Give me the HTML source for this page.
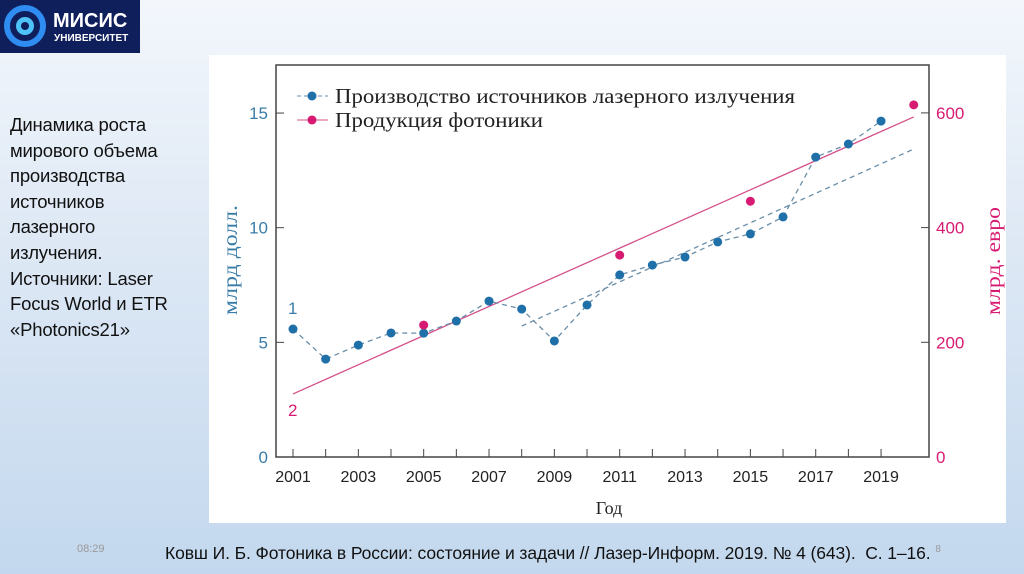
<!DOCTYPE html>
<html><head><meta charset="utf-8"><style>
body{margin:0;width:1024px;height:574px;overflow:hidden;font-family:"Liberation Sans",sans-serif;
background:linear-gradient(180deg,#f3f7fc 0%,#dfe9f5 40%,#c3d8ee 100%);position:relative}
#logo{position:absolute;left:0;top:0;width:140px;height:53px;background:#0f1f5c}
#side{position:absolute;left:10px;top:112px;font-size:18.5px;line-height:25.6px;color:#111;font-family:"Liberation Sans",sans-serif;letter-spacing:-0.2px}
#panel{position:absolute;left:209px;top:55px;width:797px;height:468px;background:#fff}
#time{position:absolute;left:77px;top:543px;font-size:11px;color:#999}
#ref{position:absolute;left:165px;top:543px;font-size:17.5px;color:#111;letter-spacing:-0.1px;white-space:nowrap}
</style></head><body>
<div id="logo">
<svg width="140" height="53">
<circle cx="25" cy="26" r="18" fill="none" stroke="#2f8cf0" stroke-width="6"/>
<circle cx="25" cy="26" r="9" fill="#4fc3f7"/>
<circle cx="25" cy="26" r="4" fill="#0f1f5c"/>
<text x="53" y="27" fill="#fff" font-size="20" font-weight="bold" font-family="Liberation Sans">МИСИС</text>
<text x="54" y="41" fill="#fff" font-size="10" font-weight="bold" font-family="Liberation Sans">УНИВЕРСИТЕТ</text>
</svg></div>
<div id="side">Динамика роста<br>мирового объема<br>производства<br>источников<br>лазерного<br>излучения.<br>Источники: Laser<br>Focus World и ETR<br>«Photonics21»</div>
<div id="panel"></div>
<svg id="chart" width="1024" height="574" style="position:absolute;left:0;top:0"></svg>
<div id="time">08:29</div>
<div id="ref">Ковш И. Б. Фотоника в России: состояние и задачи // Лазер-Информ. 2019. № 4 (643).&nbsp; С. 1–16. <sup style="font-size:10px;color:#999">8</sup></div>
<script>
const years=[2001,2002,2003,2004,2005,2006,2007,2008,2009,2010,2011,2012,2013,2014,2015,2016,2017,2018,2019];
const laserValues=[5.58,4.27,4.88,5.41,5.4,5.93,6.8,6.45,5.06,6.63,7.94,8.37,8.72,9.38,9.73,10.47,13.08,13.65,14.65];
const photonicsYears=[2005,2011,2015,2020];
const photonicsValues=[230,352,446,614];
const photonicsTrendYears=[2001,2020];
const photonicsTrendValues=[110,593];
const laserTrendYears=[2008,2020];
const laserTrendValues=[5.71,13.43];
const xTickLabels=[2001,2003,2005,2007,2009,2011,2013,2015,2017,2019];
const leftTicks=[0,5,10,15];
const rightTicks=[0,200,400,600];

const svg=document.getElementById('chart');
const NS='http://www.w3.org/2000/svg';
const X=y=>293+(y-2001)*32.67;
const YL=v=>457-v*22.93;
const YR=v=>457-v*0.5735;
function mk(t,a,txt){const e=document.createElementNS(NS,t);for(const k in a)e.setAttribute(k,a[k]);if(txt!==undefined)e.textContent=txt;svg.appendChild(e);return e;}
const blue='#1f6fa8',pink='#d81b72',ser='font-family:"Liberation Serif",serif',sans='font-family:"Liberation Sans",sans-serif';
let e;
e=mk('rect',{x:276,y:65,width:653,height:392,fill:'none',stroke:'#444','stroke-width':1.5});

years.forEach(y=>{e=mk('line',{x1:X(y),x2:X(y),y1:457,y2:449,stroke:'#444'});});
xTickLabels.forEach(y=>{e=mk('text',{x:X(y),y:482,'text-anchor':'middle','font-size':16,fill:'#222',style:sans},y);});
leftTicks.forEach(v=>{mk('line',{x1:276,x2:284,y1:YL(v),y2:YL(v),stroke:'#444'});e=mk('text',{x:268,y:YL(v)+6,'text-anchor':'end','font-size':17,fill:'#3a7ca8',style:sans},v);});
rightTicks.forEach(v=>{mk('line',{x1:921,x2:929,y1:YR(v),y2:YR(v),stroke:'#444'});e=mk('text',{x:936,y:YR(v)+6,'font-size':17,fill:pink,style:sans},v);});
e=mk('text',{x:0,y:0,'font-size':21,fill:'#3a7ca8',style:ser,'text-anchor':'middle',textLength:110,lengthAdjust:'spacingAndGlyphs',transform:'translate(237,260) rotate(-90)'},'млрд долл.');

e=mk('text',{x:0,y:0,'font-size':21,fill:pink,style:ser,'text-anchor':'middle',textLength:108,lengthAdjust:'spacingAndGlyphs',transform:'translate(1000,261) rotate(-90)'},'млрд. евро');

e=mk('text',{x:609,y:514,'font-size':18,fill:'#222',style:ser,'text-anchor':'middle'},'Год');

e=mk('text',{x:288,y:314,'font-size':17,fill:'#3a7ca8',style:sans},'1');
e=mk('text',{x:288,y:416,'font-size':17,fill:pink,style:sans},'2');
e=mk('line',{x1:X(photonicsTrendYears[0]),y1:YR(photonicsTrendValues[0]),x2:X(photonicsTrendYears[1]),y2:YR(photonicsTrendValues[1]),stroke:'#d4508a','stroke-width':1.3});

e=mk('line',{x1:X(laserTrendYears[0]),y1:YL(laserTrendValues[0]),x2:X(laserTrendYears[1]),y2:YL(laserTrendValues[1]),stroke:'#6a8ea8','stroke-width':1.3,'stroke-dasharray':'5,4'});

e=mk('polyline',{points:years.map((y,i)=>X(y)+','+YL(laserValues[i])).join(' '),fill:'none',stroke:'#6a8ea8','stroke-width':1.3,'stroke-dasharray':'5,4'});

years.forEach((y,i)=>{e=mk('circle',{cx:X(y),cy:YL(laserValues[i]),r:4.5,fill:blue});});
photonicsYears.forEach((y,i)=>{e=mk('circle',{cx:X(y),cy:YR(photonicsValues[i]),r:4.5,fill:pink});});
mk('line',{x1:297,x2:328,y1:96,y2:96,stroke:'#6a8ea8','stroke-dasharray':'4,3'});
mk('circle',{cx:312,cy:96,r:4.5,fill:blue});
e=mk('text',{x:335,y:103,'font-size':21,fill:'#222',style:ser,textLength:460,lengthAdjust:'spacingAndGlyphs'},'Производство источников лазерного излучения');

mk('line',{x1:297,x2:328,y1:120,y2:120,stroke:'#d4508a'});
mk('circle',{cx:312,cy:120,r:4.5,fill:pink});
e=mk('text',{x:335,y:127,'font-size':21,fill:'#222',style:ser,textLength:208,lengthAdjust:'spacingAndGlyphs'},'Продукция фотоники');

</script>
</body></html>
